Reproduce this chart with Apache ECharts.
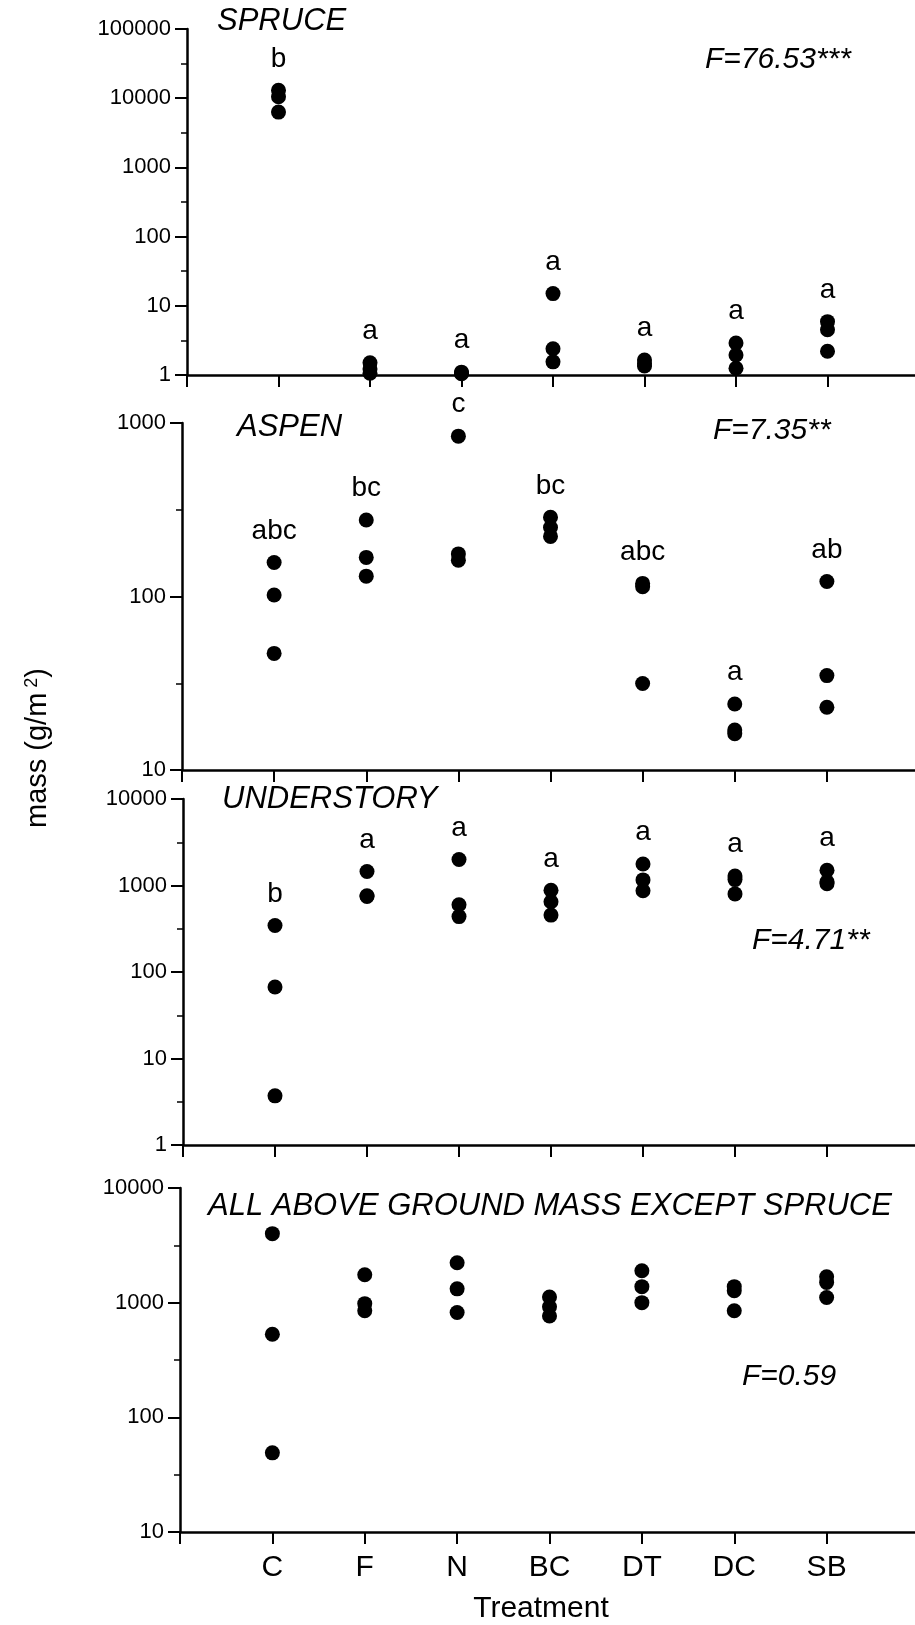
<!DOCTYPE html>
<html>
<head>
<meta charset="utf-8">
<title>mass by treatment</title>
<script src="https://cdn.jsdelivr.net/npm/echarts@6/dist/echarts.min.js"></script>
<style>
  html, body { margin: 0; padding: 0; background: #fff; }
  #chart { width: 915px; height: 1625px; }
</style>
</head>
<body>
<div id="chart"></div>
<script>
// treatments along the bottom axis
const treatments = ['C', 'F', 'N', 'BC', 'DT', 'DC', 'SB'];

// mass (g/m2), one inner array of plots per treatment
const spruce = [
  [13000, 10500, 6300], [1.5, 1.22, 1.06], [1.1, 1.07, 1.04], [15, 2.4, 1.55],
  [1.65, 1.45, 1.35], [2.9, 1.95, 1.25], [5.9, 4.5, 2.2]
];
const aspen = [
  [157, 102, 47], [276, 168, 131], [840, 176, 162], [286, 250, 222],
  [119, 114, 31.5], [24, 17, 16.2], [122, 35, 23]
];
const understory = [
  [345, 67, 3.7], [1450, 760, 745], [2000, 600, 437], [880, 650, 455],
  [1770, 1160, 870], [1290, 1170, 800], [1500, 1100, 1050]
];
const allButSpruce = [
  [4000, 530, 49], [1750, 980, 850], [2230, 1320, 820], [1120, 920, 765],
  [1900, 1380, 1000], [1380, 1270, 850], [1680, 1500, 1110]
];

// letters from the multiple comparison, placed over each group
const spruceLetters = ['b', 'a', 'a', 'a', 'a', 'a', 'a'];
const aspenLetters = ['abc', 'bc', 'c', 'bc', 'abc', 'a', 'ab'];
const understoryLetters = ['b', 'a', 'a', 'a', 'a', 'a', 'a'];

const panelTitles = ['SPRUCE', 'ASPEN', 'UNDERSTORY', 'ALL ABOVE GROUND MASS EXCEPT SPRUCE'];
const fValues = ['F=76.53***', 'F=7.35**', 'F=4.71**', 'F=0.59'];
const yRanges = [[1, 100000], [10, 1000], [1, 10000], [10, 10000]];

const panels = [
  { values: spruce, letters: spruceLetters },
  { values: aspen, letters: aspenLetters },
  { values: understory, letters: understoryLetters },
  { values: allButSpruce, letters: null }
];

// pixel layout of the four stacked plots
const layout = [
  { left: 187, top: 29, height: 346, title: [217, 6], f: [705, 45] },
  { left: 182, top: 423, height: 347, title: [237, 412], f: [713, 416] },
  { left: 183, top: 799, height: 346, title: [222, 784], f: [752, 926] },
  { left: 180, top: 1188, height: 344, title: [208, 1191], f: [742, 1362] }
];

const FONT = '"Liberation Sans", Arial, Helvetica, sans-serif';

const grid = [];
const xAxis = [];
const yAxis = [];
const series = [];
const title = [];

panels.forEach((p, k) => {
  const L = layout[k];
  const last = k === panels.length - 1;
  const [lo, hi] = yRanges[k];

  grid.push({ left: L.left, right: -4, top: L.top, height: L.height, outerBoundsMode: 'none' });

  xAxis.push({
    type: 'value',
    gridIndex: k,
    position: 'bottom',
    min: 0,
    max: 8,
    interval: 1,
    axisLine: { show: true, onZero: false, lineStyle: { color: '#000', width: 2.5 } },
    axisTick: { show: true, length: 12, lineStyle: { color: '#000', width: 2 } },
    axisLabel: {
      show: last,
      margin: 21,
      fontFamily: FONT,
      fontSize: 30,
      color: '#000',
      showMaxLabel: false,
      formatter: (v) => treatments[v - 1] || ''
    },
    splitLine: { show: false },
    name: last ? 'Treatment' : '',
    nameLocation: 'middle',
    nameGap: 62,
    nameTextStyle: { fontFamily: FONT, fontSize: 30, color: '#000', padding: [0, 17, 0, 0] }
  });

  // log axis with the labelled decades
  yAxis.push({
    type: 'log',
    logBase: 10,
    gridIndex: k,
    position: 'left',
    min: lo,
    max: hi,
    axisLine: { show: true, onZero: false, lineStyle: { color: '#000', width: 2.5 } },
    axisTick: { show: true, length: 12, lineStyle: { color: '#000', width: 2 } },
    axisLabel: {
      margin: 16,
      fontFamily: FONT,
      fontSize: 22,
      color: '#000',
      formatter: (v) => String(Math.round(v))
    },
    splitLine: { show: false },
    minorTick: { show: false }
  });
  // half decade ticks
  yAxis.push({
    type: 'value',
    gridIndex: k,
    position: 'left',
    offset: 0,
    min: Math.log10(lo),
    max: Math.log10(hi),
    interval: 0.5,
    axisLine: { show: false, onZero: false },
    axisTick: { show: true, length: 6, lineStyle: { color: '#000', width: 1.5 } },
    axisLabel: { show: false },
    splitLine: { show: false }
  });

  const data = [];
  p.values.forEach((vals, i) => {
    const top = Math.max(...vals);
    vals.forEach((v) => {
      const item = { value: [i + 1, v] };
      if (p.letters && v === top) {
        item.label = { show: true, formatter: p.letters[i] };
      }
      data.push(item);
    });
  });

  series.push({
    type: 'scatter',
    xAxisIndex: k,
    yAxisIndex: 2 * k,
    symbol: 'circle',
    symbolSize: 15,
    clip: false,
    silent: true,
    itemStyle: { color: '#000', opacity: 1 },
    label: {
      show: false,
      position: 'top',
      distance: 10,
      fontFamily: FONT,
      fontSize: 28,
      color: '#000'
    },
    data: data
  });

  title.push({
    text: panelTitles[k],
    left: L.title[0],
    top: L.title[1],
    padding: 0,
    textStyle: { fontFamily: FONT, fontStyle: 'italic', fontWeight: 'normal', fontSize: 31, color: '#000' }
  });
  title.push({
    text: fValues[k],
    left: L.f[0],
    top: L.f[1],
    padding: 0,
    textStyle: { fontFamily: FONT, fontStyle: 'italic', fontWeight: 'normal', fontSize: 30, color: '#000' }
  });
});

const chart = echarts.init(document.getElementById('chart'), null, { renderer: 'canvas' });
chart.setOption({
  animation: false,
  backgroundColor: '#fff',
  title: title,
  grid: grid,
  xAxis: xAxis,
  yAxis: yAxis,
  series: series,
  graphic: [
    {
      type: 'text',
      x: 38,
      y: 748,
      rotation: Math.PI / 2,
      style: {
        text: 'mass (g/m{s| 2})',
        fontFamily: FONT,
        fontSize: 29,
        fill: '#000',
        align: 'center',
        verticalAlign: 'middle',
        rich: {
          s: { fontFamily: FONT, fontSize: 18, verticalAlign: 'top', fill: '#000' }
        }
      }
    }
  ]
});
</script>
</body>
</html>
